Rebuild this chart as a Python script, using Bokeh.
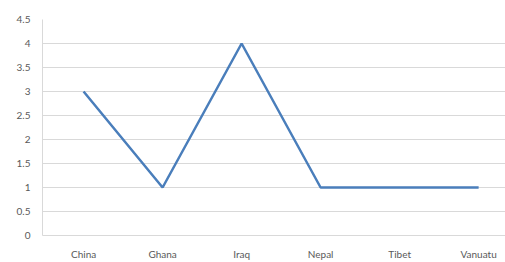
from bokeh.plotting import figure
from bokeh.models import FixedTicker, Range1d
from bokeh.embed import file_html
from bokeh.resources import INLINE

categories = ["China", "Ghana", "Iraq", "Nepal", "Tibet", "Vanuatu"]
values = [3, 1, 4, 1, 1, 1]
y_ticks = [0, 0.5, 1, 1.5, 2, 2.5, 3, 3.5, 4, 4.5]
y_tick_labels = ["0", "0.5", "1", "1.5", "2", "2.5", "3", "3.5", "4", "4.5"]

xs = list(range(len(categories)))

p = figure(width=505, height=262, output_backend="svg", toolbar_location=None,
           x_range=Range1d(-0.52, 5.34), y_range=Range1d(0, 4.5),
           min_border_left=42, min_border_right=0, min_border_top=19, min_border_bottom=10)
p.outline_line_color = None
p.background_fill_color = "white"

p.line(xs, values, line_color="#4A7EBB", line_width=2.5)

font = "Lato"
p.xaxis.ticker = FixedTicker(ticks=xs)
p.xaxis.major_label_overrides = {i: c for i, c in enumerate(categories)}
p.yaxis.ticker = FixedTicker(ticks=y_ticks)
p.yaxis.major_label_overrides = {t: l for t, l in zip(y_ticks, y_tick_labels)}

for ax in (p.xaxis, p.yaxis):
    ax.axis_line_color = "#D9D9D9"
    ax.axis_line_width = 1
    ax.major_tick_line_color = None
    ax.minor_tick_line_color = None
    ax.major_label_text_font = font
    ax.major_label_text_font_size = "10px"
    ax.major_label_text_color = "#595959"
p.xaxis.major_label_standoff = 6
p.yaxis.major_label_standoff = 6

p.xgrid.grid_line_color = None
p.ygrid.grid_line_color = "#D9D9D9"
p.ygrid.grid_line_width = 1

open("out.html", "w").write(file_html(p, INLINE))
